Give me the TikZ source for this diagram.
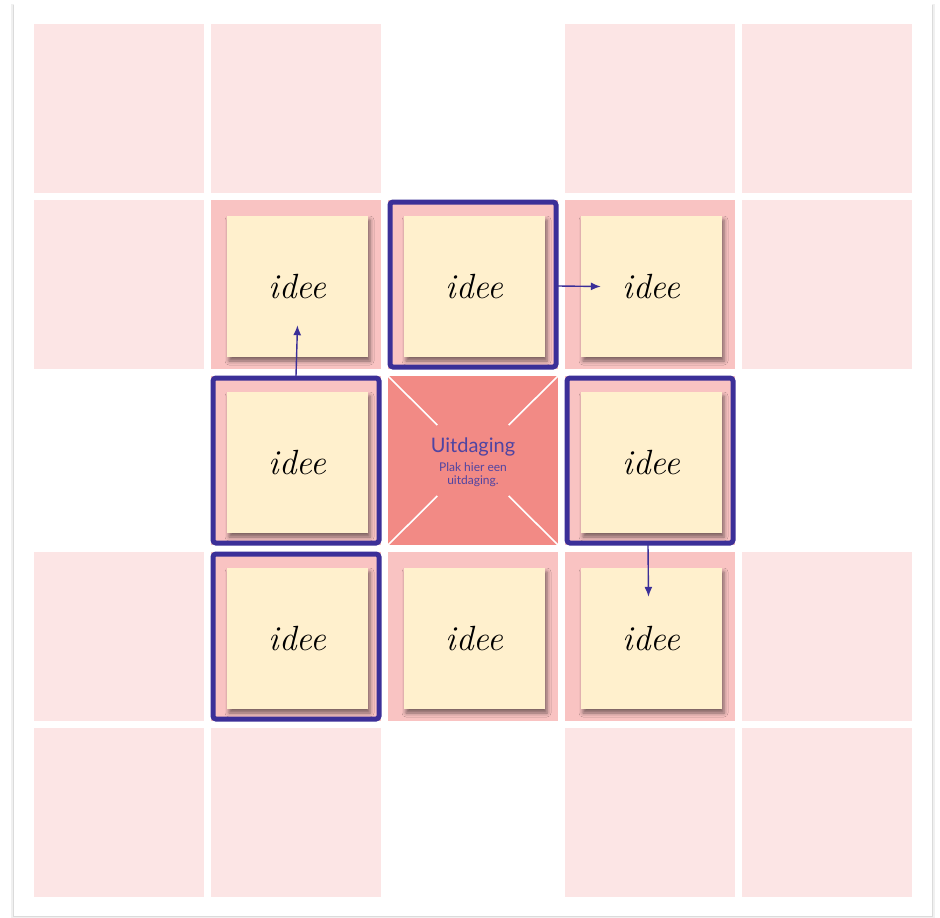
\documentclass[tikz,border=0pt]{standalone}
\usepackage{fontspec}
\setsansfont{Lato}
\usepackage{xcolor}
\usepackage{tikz}
\usetikzlibrary{positioning,arrows.meta,calc,shadows.blur}
\definecolor{PalePink}{HTML}{FCE5E5}
\definecolor{RingPink}{HTML}{F9C3C2}
\definecolor{CoreRed}{HTML}{F28A85}
\definecolor{NoteYellow}{HTML}{FFF0CD}
\definecolor{PickBlue}{HTML}{3B2F98}

\begin{document}
\begin{tikzpicture}[
  x=1pt, y=-1pt,
  cell/.style={minimum width=170pt,minimum height=169pt,inner sep=0pt,outer sep=0pt},
  outer/.style={cell,fill=PalePink},
  ring/.style={cell,fill=RingPink},
  note/.style={minimum size=141pt,inner sep=0pt,fill=NoteYellow,
    font=\fontsize{35}{38}\selectfont\itshape,
    blur shadow={shadow xshift=2pt,shadow yshift=-4pt,shadow blur radius=4pt,shadow opacity=50}},
  picked/.style={draw=PickBlue,line width=5pt,rounded corners=3pt},
  flow/.style={draw=PickBlue,line width=1.4pt,-{Latex[length=10pt,width=8pt]}}
]
\useasboundingbox (0,0) rectangle (940,918);

% --- sheet with a soft shadow ---
\fill[black!6] (11,4) rectangle (935,919);
\fill[black!14] (13,5) rectangle (933,917);
\fill[white] (14,3) rectangle (932,916);

% --- outer ring of empty cells ---
\foreach \c/\r in {1/1,2/1,4/1,5/1,1/2,5/2,1/4,5/4,1/5,2/5,4/5,5/5}
  \node[outer] (c\c\r) at (\c*177-58, \r*176-67.5) {};

% --- inner ring of cells, each with a note ---
\foreach \c/\r in {2/2,3/2,4/2,2/3,4/3,2/4,3/4,4/4} {
  \node[ring] (c\c\r) at (\c*177-58, \r*176-67.5) {};
  \node[note] (n\c\r) at ($(c\c\r.center)+(1.5,2)$) {idee};
}

% --- the challenge in the middle ---
\node[cell,fill=CoreRed] (ctr) at (473,460.5) {};
\foreach \k in {north west,north east,south west,south east}
  \draw[white,line width=1.6pt] (ctr.\k) -- ($(ctr.\k)!0.58!(ctr.center)$);
\node[font=\sffamily\fontsize{20}{22}\selectfont,text=PickBlue!90] (title) at ($(ctr.center)+(0,-14)$) {Uitdaging};
\node[below=0pt of title,font=\sffamily\fontsize{12}{13}\selectfont,text=PickBlue!90,align=center] (sub) {Plak hier een\\uitdaging.};

% --- picked cells ---
\foreach \n in {c32,c23,c43,c24}
  \draw[picked] ([shift={(2,2)}]\n.north west) rectangle ([shift={(-2,-2)}]\n.south east);

% --- links between picked cells and notes ---
\coordinate (t22) at ($(n22.south)+(0,-32)$);
\coordinate (t42) at ($(n42.west)+(20,0)$);
\coordinate (t44) at ($(n44.north)+(-3,29)$);
\draw[flow] (c23.north) -- (t22);
\draw[flow] ([yshift=-1.5pt]c32.east) -- (t42);
\draw[flow] ([xshift=-2pt]c43.south) -- (t44);
\end{tikzpicture}
\end{document}
